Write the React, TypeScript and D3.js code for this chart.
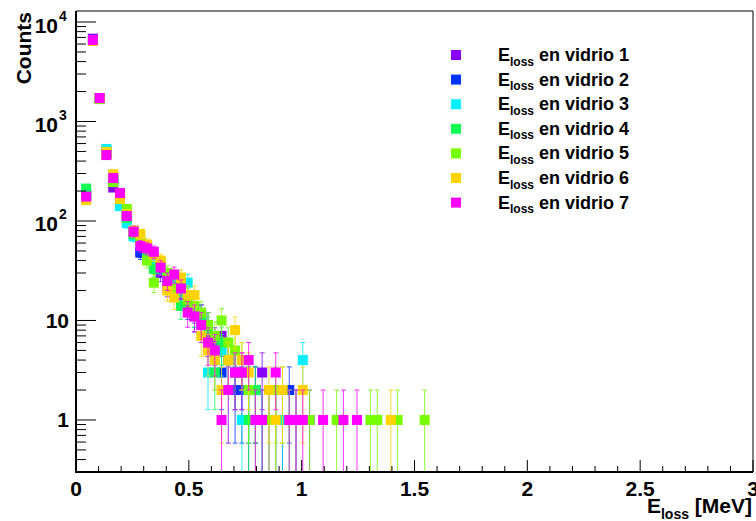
import React from "react";
import * as d3 from "d3";

const W = 756;
const H = 521;

// Histogram binning: 52 bins of 0.03 MeV starting at 0
const binLowEdges = d3.range(52).map((i) => i * 0.03);
const binWidth = 0.03;

const seriesLabels = ["1", "2", "3", "4", "5", "6", "7"];
const seriesColors = ["#8800ff", "#0033ff", "#00eeff", "#11ff55", "#77ff00", "#ffd200", "#ff00ff"];

const vidrio1 = [
  0, 185, 6800, 1720, 480, 217, 175, 118, 80, 50,
  52, 44, 30, 22, 26, 19, 15, 13, 11, 7,
  6, 7, 4, 3, 3, 2, 2, 3, 1, 0,
  1, 0, 1, 0, 1, 0, 0, 0, 0, 0,
  0, 0, 0, 0, 0, 0, 0, 0, 0, 0,
  0, 0,
];
const vidrio2 = [
  0, 182, 6620, 1700, 500, 260, 180, 110, 78, 48,
  55, 42, 33, 27, 22, 18, 14, 11, 11, 9,
  5, 3, 4, 2, 2, 1, 2, 1, 0, 1,
  1, 2, 0, 0, 0, 0, 0, 0, 0, 0,
  0, 0, 0, 0, 0, 0, 0, 0, 0, 0,
  0, 0,
];
const vidrio3 = [
  0, 190, 6600, 1690, 530, 255, 141, 95, 70, 60,
  50, 40, 35, 28, 23, 19, 24, 12, 9, 3,
  4, 5, 2, 0, 1, 2, 1, 1, 0, 1,
  1, 1, 0, 4, 0, 0, 0, 0, 0, 0,
  0, 0, 0, 0, 0, 0, 0, 0, 0, 0,
  0, 0,
];
const vidrio4 = [
  0, 212, 6600, 1680, 470, 265, 185, 107, 74, 62,
  47, 33, 36, 26, 20, 14, 17, 12, 10, 8,
  3, 6, 4, 3, 0, 1, 2, 1, 0, 1,
  0, 0, 1, 0, 0, 0, 0, 0, 0, 0,
  0, 0, 0, 0, 0, 0, 0, 0, 0, 0,
  0, 0,
];
const vidrio5 = [
  0, 172, 6580, 1700, 485, 246, 170, 132, 77, 65,
  40, 24, 38, 30, 21, 22, 16, 14, 12, 9,
  7, 10, 6, 5, 4, 2, 1, 0, 1, 2,
  2, 1, 0, 0, 1, 0, 0, 0, 1, 0,
  0, 0, 0, 1, 1, 0, 0, 1, 0, 0,
  0, 1,
];
const vidrio6 = [
  0, 162, 6450, 1710, 495, 295, 166, 117, 80, 74,
  58, 46, 40, 20, 17, 27, 18, 18, 7, 5,
  4, 2, 4, 8, 4, 3, 0, 0, 2, 1,
  2, 0, 0, 2, 0, 0, 0, 0, 0, 0,
  0, 0, 0, 0, 0, 0, 1, 0, 0, 0,
  0, 0,
];
const vidrio7 = [
  0, 176, 6600, 1720, 460, 270, 191, 112, 78, 56,
  53, 49, 34, 25, 29, 21, 12, 11, 9, 6,
  5, 1, 2, 3, 3, 4, 1, 1, 0, 3,
  0, 1, 1, 1, 0, 0, 1, 0, 0, 1,
  0, 1, 0, 0, 0, 0, 0, 0, 0, 0,
  0, 0,
];

const allSeries = [vidrio1, vidrio2, vidrio3, vidrio4, vidrio5, vidrio6, vidrio7];

const xTickValues = [0, 0.5, 1, 1.5, 2, 2.5, 3];
const xTickLabels = ["0", "0.5", "1", "1.5", "2", "2.5", "3"];
const yDecades = [1, 10, 100, 1000, 10000];
const yDecadeExp = ["", "", "2", "3", "4"];
const yDecadeBase = ["1", "10", "10", "10", "10"];

const FONT = "'Liberation Sans', Arial, Helvetica, sans-serif";

export default function App() {
  const left = 76;
  const right = 753;
  const top = 11;
  const bottom = 472;
  const yMin = 0.3;
  const x = d3.scaleLinear().domain([0, 3]).range([left, right]);
  const y = d3.scaleLog().domain([yMin, 12900]).range([bottom, top]);

  const xMinor = d3.range(0, 3.0001, 0.1).filter((v) => Math.abs(v * 2 - Math.round(v * 2)) > 1e-6);
  const yMinor: number[] = [];
  [0.1, 1, 10, 100, 1000].forEach((d) => {
    for (let k = 2; k <= 9; k++) {
      const v = k * d;
      if (v >= yMin - 1e-9 && v <= 12900) yMinor.push(v);
    }
  });

  const ms = 10; // marker size
  const capHalf = 2.5;

  return (
    <svg
      width={W}
      height={H}
      style={{ position: "fixed", left: 0, top: 0, background: "#fff" }}
      fontFamily={FONT}
    >
      <defs>
        <clipPath id="plotClip">
          <rect x={left} y={top} width={right - left} height={bottom - top} />
        </clipPath>
      </defs>
      <rect x={0} y={0} width={W} height={H} fill="#fff" />

      {/* data */}
      <g clipPath="url(#plotClip)">
        {allSeries.map((vals, s) => (
          <g key={s}>
            {vals.map((n, i) => {
              if (n <= 0) return null;
              const cx = x(binLowEdges[i] + binWidth / 2);
              const err = Math.sqrt(n);
              const yUp = y(n + err);
              const lo = n - err;
              const yLo = lo > yMin ? y(lo) : bottom + 2;
              return (
                <g key={i} stroke={seriesColors[s]} strokeWidth={1} strokeOpacity={0.8}>
                  <line x1={cx} x2={cx} y1={yUp} y2={yLo} />
                  <line x1={cx - capHalf} x2={cx + capHalf} y1={yUp} y2={yUp} />
                  {lo > yMin && <line x1={cx - capHalf} x2={cx + capHalf} y1={yLo} y2={yLo} />}
                </g>
              );
            })}
            {vals.map((n, i) => {
              if (n <= 0) return null;
              const cx = x(binLowEdges[i] + binWidth / 2);
              const cy = y(n);
              return (
                <rect key={"m" + i} x={cx - ms / 2} y={cy - ms / 2} width={ms} height={ms} fill={seriesColors[s]} />
              );
            })}
          </g>
        ))}
      </g>

      {/* frame */}
      <line x1={left} x2={right} y1={top} y2={top} stroke="#000" strokeWidth={1} />
      <line x1={right} x2={right} y1={top} y2={bottom} stroke="#000" strokeWidth={1} />
      <line x1={left} x2={left} y1={top} y2={bottom + 1} stroke="#000" strokeWidth={2} />
      <line x1={left - 1} x2={right} y1={bottom} y2={bottom} stroke="#000" strokeWidth={2} />

      {/* x ticks */}
      {xTickValues.map((v) => (
        <line key={"xt" + v} x1={x(v)} x2={x(v)} y1={bottom} y2={bottom - 12} stroke="#000" strokeWidth={1} />
      ))}
      {xMinor.map((v) => (
        <line key={"xm" + v} x1={x(v)} x2={x(v)} y1={bottom} y2={bottom - 6} stroke="#000" strokeWidth={1} />
      ))}
      {xTickValues.map((v, i) => (
        <text key={"xl" + v} x={x(v)} y={496} textAnchor="middle" fontSize={21} fontWeight="bold">
          {xTickLabels[i]}
        </text>
      ))}

      {/* y ticks */}
      {yDecades.map((v) => (
        <line key={"yt" + v} x1={left} x2={left + 20} y1={y(v)} y2={y(v)} stroke="#000" strokeWidth={1} />
      ))}
      {yMinor.map((v) => (
        <line key={"ym" + v} x1={left} x2={left + 10} y1={y(v)} y2={y(v)} stroke="#000" strokeWidth={1} />
      ))}
      {yDecades.map((v, i) =>
        yDecadeExp[i] === "" ? (
          <text key={"yl" + v} x={69} y={y(v) + 7.5} textAnchor="end" fontSize={21} fontWeight="bold">
            {yDecadeBase[i]}
          </text>
        ) : (
          <g key={"yl" + v}>
            <text x={58} y={y(v) + 10.5} textAnchor="end" fontSize={21} fontWeight="bold">
              {yDecadeBase[i]}
            </text>
            <text x={59} y={y(v) - 1.5} textAnchor="start" fontSize={14} fontWeight="bold">
              {yDecadeExp[i]}
            </text>
          </g>
        )
      )}

      {/* axis titles */}
      <text transform="translate(31,12) rotate(-90)" textAnchor="end" fontSize={21} fontWeight="bold">
        Counts
      </text>
      <text x={752} y={513} textAnchor="end" fontSize={21} fontWeight="bold">
        E
        <tspan fontSize={14} dy={6}>
          loss
        </tspan>
        <tspan dy={-6}> [MeV]</tspan>
      </text>

      {/* legend */}
      {seriesLabels.map((lab, s) => {
        const ry = 55 + s * 24.6;
        return (
          <g key={"lg" + s}>
            <rect x={451} y={ry - 5} width={10} height={10} fill={seriesColors[s]} />
            <text x={498} y={ry + 6} fontSize={18} fontWeight="bold">
              E
              <tspan fontSize={12} dy={4.5}>
                loss
              </tspan>
              <tspan dy={-4.5}>{" en vidrio " + lab}</tspan>
            </text>
          </g>
        );
      })}
    </svg>
  );
}
